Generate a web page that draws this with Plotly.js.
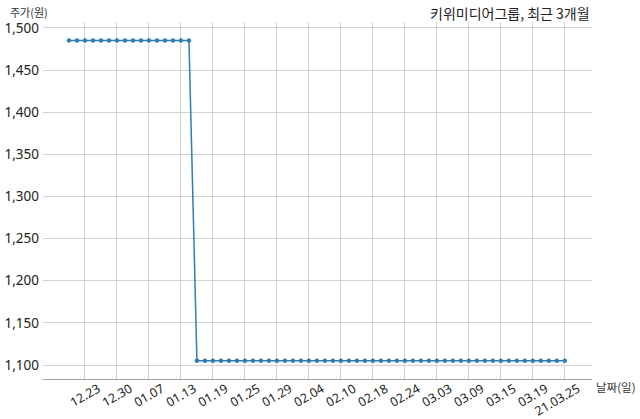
<!DOCTYPE html>
<html>
<head>
<meta charset="utf-8">
<script src="https://cdn.plot.ly/plotly-3.0.1.min.js"></script>
<style>html,body{margin:0;padding:0;background:#fff;}#chart{width:640px;height:419px;}</style>
</head>
<body>
<div id="chart"></div>
<script>
// Trading days (Korea), 2020-12-21 .. 2021-03-25
const dates = [
  "20.12.21","20.12.22","20.12.23","20.12.24","20.12.28","20.12.29","20.12.30",
  "21.01.04","21.01.05","21.01.06","21.01.07","21.01.08",
  "21.01.11","21.01.12","21.01.13","21.01.14","21.01.15",
  "21.01.18","21.01.19","21.01.20","21.01.21","21.01.22",
  "21.01.25","21.01.26","21.01.27","21.01.28","21.01.29",
  "21.02.01","21.02.02","21.02.03","21.02.04","21.02.05",
  "21.02.08","21.02.09","21.02.10",
  "21.02.15","21.02.16","21.02.17","21.02.18","21.02.19",
  "21.02.22","21.02.23","21.02.24","21.02.25","21.02.26",
  "21.03.02","21.03.03","21.03.04","21.03.05",
  "21.03.08","21.03.09","21.03.10","21.03.11","21.03.12",
  "21.03.15","21.03.16","21.03.17","21.03.18","21.03.19",
  "21.03.22","21.03.23","21.03.24","21.03.25"
];
const prices = [
  1485,1485,1485,1485,1485,1485,1485,
  1485,1485,1485,1485,1485,
  1485,1485,1485,1485,1105,
  1105,1105,1105,1105,1105,
  1105,1105,1105,1105,1105,
  1105,1105,1105,1105,1105,
  1105,1105,1105,
  1105,1105,1105,1105,1105,
  1105,1105,1105,1105,1105,
  1105,1105,1105,1105,
  1105,1105,1105,1105,1105,
  1105,1105,1105,1105,1105,
  1105,1105,1105,1105
];
const tickDates = ["20.12.23","20.12.30","21.01.07","21.01.13","21.01.19","21.01.25","21.01.29","21.02.04","21.02.10","21.02.18","21.02.24","21.03.03","21.03.09","21.03.15","21.03.19","21.03.25"];
const tickLabels = ["12.23","12.30","01.07","01.13","01.19","01.25","01.29","02.04","02.10","02.18","02.24","03.03","03.09","03.15","03.19","21.03.25"];
const yTicks = [1100,1150,1200,1250,1300,1350,1400,1450,1500];

const FONT = "'Noto Sans CJK KR', 'Noto Sans', sans-serif";
const NUMFONT = "'Noto Sans', 'Open Sans', sans-serif";
const COLOR = "#2f7db3";

Plotly.newPlot("chart", [{
  type: "scatter",
  mode: "lines+markers",
  x: dates,
  y: prices,
  line: {color: COLOR, width: 1.5},
  marker: {color: COLOR, size: 4.5},
  hoverinfo: "skip"
}], {
  width: 640, height: 419,
  margin: {l: 43, r: 48, t: 22, b: 40, pad: 0},
  paper_bgcolor: "#fff", plot_bgcolor: "#fff",
  showlegend: false,
  font: {family: FONT, color: "#222"},
  xaxis: {
    type: "category",
    range: [-3.25, 65.4],
    tickvals: tickDates,
    ticktext: tickLabels,
    tickangle: -30,
    ticklabelshift: 13,
    ticklabelstandoff: -3,
    tickfont: {size: 12.5, color: "#222", family: NUMFONT},
    showgrid: true, gridcolor: "#d2d2d2", gridwidth: 1,
    showline: true, linecolor: "#a0a0a0", linewidth: 1,
    ticks: "", zeroline: false
  },
  yaxis: {
    range: [1083.4, 1507],
    tickvals: yTicks,
    tickformat: ",d",
    tickfont: {size: 13.5, color: "#222", family: NUMFONT},
    showgrid: true, gridcolor: "#d2d2d2", gridwidth: 1,
    showline: false, ticks: "", zeroline: false,
    ticklabelstandoff: 3
  },
  annotations: [
    {text: "주가(원)", xref: "paper", yref: "paper", x: -35/549, y: 1, xanchor: "left", yanchor: "middle",
     yshift: 10, showarrow: false, font: {size: 11, color: "#333", family: FONT}},
    {text: "날짜(일)", xref: "paper", yref: "paper", x: 1, y: 0, xanchor: "left", yanchor: "middle",
     xshift: 2, yshift: -8, showarrow: false, font: {size: 11.5, color: "#333", family: FONT}},
    {text: "키위미디어그룹, 최근 3개월", xref: "paper", yref: "paper", x: 1, y: 1, xanchor: "right", yanchor: "middle",
     yshift: 9, showarrow: false, font: {size: 14, color: "#222", family: FONT}}
  ]
}, {displayModeBar: false, staticPlot: true});
</script>
</body>
</html>
